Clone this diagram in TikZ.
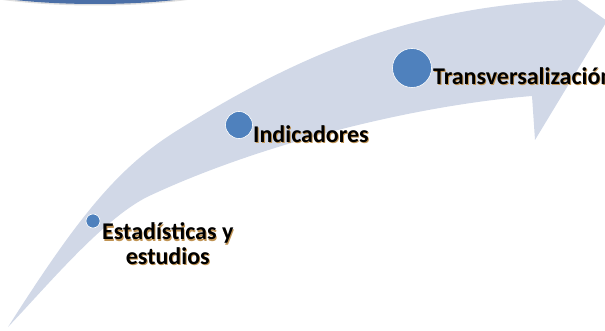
\documentclass[tikz,border=0pt]{standalone}
\usepackage{fontspec}
\setmainfont{Carlito}
\usetikzlibrary{positioning,shadows}
\tikzset{>=latex}
\definecolor{bandgray}{HTML}{D1D8E7}
\definecolor{dotblue}{HTML}{4F81BD}
\definecolor{capblue}{HTML}{4B6FA7}
\definecolor{glowbrown}{HTML}{B07828}
\tikzstyle{band}  =[fill=bandgray,draw=none]
\tikzstyle{dot}   =[circle,fill=dotblue,draw=white,line width=0.6pt,inner sep=0pt]
\tikzstyle{stage} =[font=\fontsize{24}{25}\selectfont\bfseries,inner sep=0pt,
                    anchor=base west,align=center]
% text with a soft brown shadow behind it
\newcommand\glow[1]{%
  \makebox[0pt][l]{\hspace{0.9pt}\raisebox{-1pt}{\textcolor{glowbrown!80}{#1}}}#1}

\begin{document}
\begin{tikzpicture}[x=1pt,y=-1pt]
  \useasboundingbox (0,0) rectangle (605,331);
  \clip (0,0) rectangle (605,331);

  % cap of the box above (cut off)
  \fill[capblue,drop shadow={opacity=0.25,shadow xshift=0pt,shadow yshift=-1.5pt}]
    (95,-26) ellipse (160 and 30);

  % curved arrow: outer edge, head, inner edge
  \coordinate (tail) at (8,327);
  \coordinate (mo)   at (178,130);
  \coordinate (mi)   at (147,197);
  \fill[band]
    (tail) .. controls (78,217) and (118,167) .. (mo)
           .. controls (308,49) and (417,7.5) .. (567,0)
    -- (560,-12) -- (607,21) -- (535,140) -- (532,96)
           .. controls (412,105.6) and (257,145) .. (mi)
           .. controls (102,220) and (48,285) .. (tail)
    -- cycle;

  % milestones
  \node[dot,minimum size=14pt] (dotE) at (93,221)  {};
  \node[dot,minimum size=27pt] (dotI) at (239,125) {};
  \node[dot,minimum size=39pt] (dotT) at (412,68)  {};

  % labels
  \node[stage] (estad) at (102,265) {\glow{Estadísticas y}\\\glow{estudios}};
  \node[stage] (indic) at (253,143) {\glow{Indicadores}};
  \node[stage] (trans) at (433,85)  {\glow{Transversalización}};
\end{tikzpicture}
\end{document}
